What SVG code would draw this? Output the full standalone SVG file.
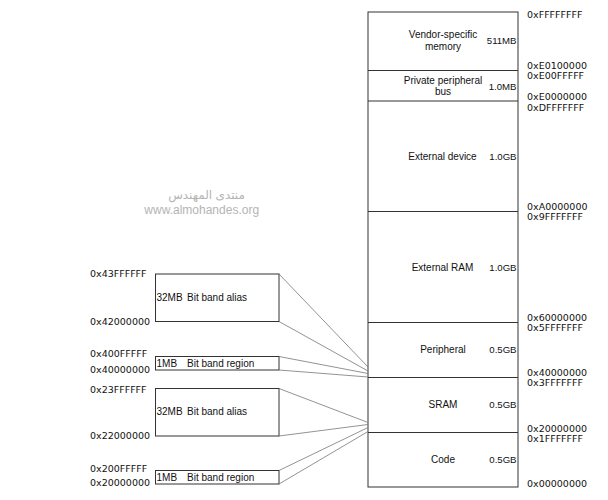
<svg xmlns="http://www.w3.org/2000/svg" width="608" height="500" viewBox="0 0 608 500">
<style>
.box{fill:#fff;stroke:#333;stroke-width:1}
.name{font-family:"Liberation Sans",Arial,sans-serif;font-size:10px;fill:#111}
.size{font-family:"Liberation Sans",Arial,sans-serif;font-size:9.6px;fill:#111;text-anchor:end}
.addr{font-family:"DejaVu Sans",sans-serif;font-size:9.5px;fill:#111}
.conn{stroke:#777;stroke-width:0.8;fill:none}
.wm{font-family:"Liberation Sans","DejaVu Sans",sans-serif;fill:#b4b4b4;text-anchor:middle}
</style>
<rect width="608" height="500" fill="#fff"/>
<g id="watermark">
<text class="wm" x="206.5" y="199" font-size="12">منتدى المهندس</text>
<text class="wm" x="201.7" y="214" font-size="12">www.almohandes.org</text>
</g>
<g id="memory-map">
<rect class="box" x="368" y="12" width="150" height="475"/>
<g id="vendor">
<line class="box" x1="368" y1="70.5" x2="518" y2="70.5"/>
<text class="name" x="443" y="38" text-anchor="middle">Vendor-specific</text>
<text class="name" x="443" y="49.5" text-anchor="middle">memory</text>
<text class="size" x="516.5" y="44">511MB</text>
</g>
<g id="ppb">
<line class="box" x1="368" y1="101" x2="518" y2="101"/>
<text class="name" x="443" y="83.5" text-anchor="middle">Private peripheral</text>
<text class="name" x="443" y="94.5" text-anchor="middle">bus</text>
<text class="size" x="516.5" y="90">1.0MB</text>
</g>
<g id="extdev">
<line class="box" x1="368" y1="211.5" x2="518" y2="211.5"/>
<text class="name" x="442.5" y="159.5" text-anchor="middle">External device</text>
<text class="size" x="516.5" y="159.5">1.0GB</text>
</g>
<g id="extram">
<line class="box" x1="368" y1="322.5" x2="518" y2="322.5"/>
<text class="name" x="442.5" y="270.5" text-anchor="middle">External RAM</text>
<text class="size" x="516.5" y="270.5">1.0GB</text>
</g>
<g id="peripheral">
<line class="box" x1="368" y1="377.5" x2="518" y2="377.5"/>
<text class="name" x="443" y="353" text-anchor="middle">Peripheral</text>
<text class="size" x="516.5" y="353">0.5GB</text>
</g>
<g id="sram">
<line class="box" x1="368" y1="432.5" x2="518" y2="432.5"/>
<text class="name" x="443" y="408" text-anchor="middle">SRAM</text>
<text class="size" x="516.5" y="408">0.5GB</text>
</g>
<g id="code">
<text class="name" x="443" y="463" text-anchor="middle">Code</text>
<text class="size" x="516.5" y="463">0.5GB</text>
</g>
</g>
<g id="addresses">
<text class="addr" x="527" y="17.5">0xFFFFFFFF</text>
<text class="addr" x="527" y="68.5">0xE0100000</text>
<text class="addr" x="527" y="79">0xE00FFFFF</text>
<text class="addr" x="527" y="100">0xE0000000</text>
<text class="addr" x="527" y="110.5">0xDFFFFFFF</text>
<text class="addr" x="527" y="210">0xA0000000</text>
<text class="addr" x="527" y="220">0x9FFFFFFF</text>
<text class="addr" x="527" y="321">0x60000000</text>
<text class="addr" x="527" y="331">0x5FFFFFFF</text>
<text class="addr" x="527" y="376">0x40000000</text>
<text class="addr" x="527" y="386">0x3FFFFFFF</text>
<text class="addr" x="527" y="431.5">0x20000000</text>
<text class="addr" x="527" y="441.5">0x1FFFFFFF</text>
<text class="addr" x="527" y="487">0x00000000</text>
</g>
<g id="periph-alias">
<rect class="box" x="155.5" y="274" width="123.5" height="47.5"/>
<text class="name" x="156.5" y="300.5">32MB</text>
<text class="name" x="187" y="300.5">Bit band alias</text>
<text class="addr" x="90" y="277">0x43FFFFFF</text>
<text class="addr" x="90" y="324.5">0x42000000</text>
</g>
<g id="periph-region">
<rect class="box" x="155.5" y="356.5" width="123.5" height="13.5"/>
<text class="name" x="156.5" y="367">1MB</text>
<text class="name" x="187" y="367">Bit band region</text>
<text class="addr" x="90" y="356.5">0x400FFFFF</text>
<text class="addr" x="90" y="372.5">0x40000000</text>
</g>
<g id="sram-alias">
<rect class="box" x="155.5" y="388.5" width="123.5" height="47.5"/>
<text class="name" x="156.5" y="414.5">32MB</text>
<text class="name" x="187" y="414.5">Bit band alias</text>
<text class="addr" x="90" y="392.5">0x23FFFFFF</text>
<text class="addr" x="90" y="438.5">0x22000000</text>
</g>
<g id="sram-region">
<rect class="box" x="155.5" y="470.5" width="123.5" height="13.5"/>
<text class="name" x="156.5" y="481">1MB</text>
<text class="name" x="187" y="481">Bit band region</text>
<text class="addr" x="90" y="472">0x200FFFFF</text>
<text class="addr" x="90" y="486">0x20000000</text>
</g>
<g id="connectors">
<line class="conn" x1="279" y1="274" x2="368" y2="367"/>
<line class="conn" x1="279" y1="321.5" x2="368" y2="371"/>
<line class="conn" x1="279" y1="356.5" x2="368" y2="373.5"/>
<line class="conn" x1="279" y1="370" x2="368" y2="377"/>
<line class="conn" x1="279" y1="388.5" x2="368" y2="422.5"/>
<line class="conn" x1="279" y1="436" x2="368" y2="424.5"/>
<line class="conn" x1="279" y1="470.5" x2="368" y2="427.5"/>
<line class="conn" x1="279" y1="484" x2="368" y2="431.5"/>
</g>
</svg>
